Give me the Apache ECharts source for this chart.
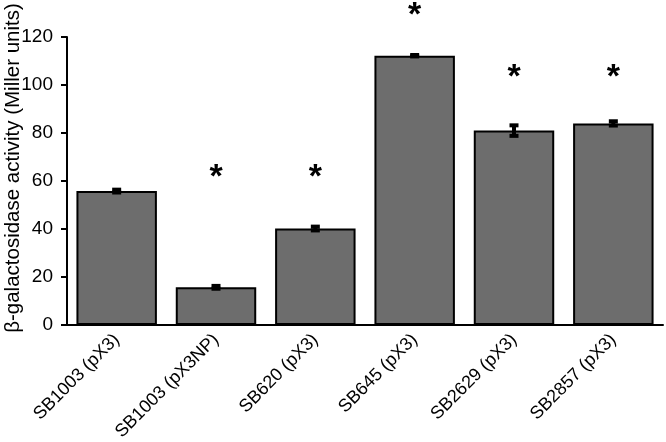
<!DOCTYPE html>
<html><head><meta charset="utf-8">
<script src="https://cdn.jsdelivr.net/npm/echarts@6/dist/echarts.min.js"></script>
<style>html,body{margin:0;padding:0;background:#fff}#c{width:666px;height:442px}</style>
</head><body><div id="c"></div>
<script>
const categories = ['SB1003 (pX3)', 'SB1003 (pX3NP)', 'SB620 (pX3)', 'SB645 (pX3)', 'SB2629 (pX3)', 'SB2857 (pX3)'];
const means = [55.8, 15.7, 40.2, 112.2, 81.0, 84.0];
const errors = [0.8, 0.8, 1.0, 0.5, 2.4, 1.1];
const significant = [false, true, true, true, true, true];
const asteriskY = [null, 61.5, 61.5, 129, 103, 103];
const yTicks = [0, 20, 40, 60, 80, 100, 120];
const yTitle = 'β-galactosidase activity (Miller units)';

const FONT = '"Liberation Sans", Arial, sans-serif';
const chart = echarts.init(document.getElementById('c'), null, {renderer: 'canvas'});

const errData = means.map((m, i) => [i, m - errors[i], m + errors[i]]);
const starData = [];
asteriskY.forEach((v, i) => { if (significant[i]) starData.push([i, v]); });

chart.setOption({
  animation: false,
  grid: {left: 67, right: 3, top: 37, bottom: 117, containLabel: false, outerBoundsMode: 'none'},
  graphic: [{
    type: 'text', x: 13, y: 168, rotation: Math.PI / 2,
    style: {text: yTitle, fill: '#000', font: '20.5px ' + FONT, align: 'center', verticalAlign: 'middle'}
  }],
  xAxis: {
    type: 'category', data: categories,
    axisLine: {lineStyle: {color: '#000', width: 2}},
    axisTick: {show: false},
    axisLabel: {rotate: 45, color: '#000', fontFamily: FONT, fontSize: 18, margin: 12, interval: 0}
  },
  yAxis: {
    type: 'value', min: yTicks[0], max: yTicks[yTicks.length - 1], interval: 20,
    axisLine: {show: true, lineStyle: {color: '#000', width: 2}},
    axisTick: {show: true, length: 6, lineStyle: {color: '#000', width: 2}},
    axisLabel: {color: '#000', fontFamily: FONT, fontSize: 19, margin: 14},
    splitLine: {show: false}
  },
  series: [
    {
      type: 'bar', data: means, barCategoryGap: '19%',
      itemStyle: {color: '#6d6d6d', borderColor: '#000', borderWidth: 2}
    },
    {
      type: 'custom', data: errData, z: 10,
      renderItem: function (params, api) {
        const x = api.value(0);
        const lo = api.coord([x, api.value(1)]);
        const hi = api.coord([x, api.value(2)]);
        const w = 9;
        return {
          type: 'group', children: [
            {type: 'rect', shape: {x: lo[0] - 2, y: hi[1], width: 4, height: lo[1] - hi[1]}, style: {fill: '#000'}},
            {type: 'rect', shape: {x: hi[0] - w / 2, y: hi[1] - 1.5, width: w, height: 4}, style: {fill: '#000'}},
            {type: 'rect', shape: {x: lo[0] - w / 2, y: lo[1] - 2.5, width: w, height: 4}, style: {fill: '#000'}}
          ]
        };
      }
    },
    {
      type: 'custom', data: starData, z: 10, clip: false,
      renderItem: function (params, api) {
        const p = api.coord([api.value(0), api.value(1)]);
        return {
          type: 'text', x: p[0], y: p[1],
          style: {text: '*', fill: '#000', font: 'bold 34px ' + FONT, align: 'center', verticalAlign: 'middle'}
        };
      }
    }
  ]
});
</script></body></html>
